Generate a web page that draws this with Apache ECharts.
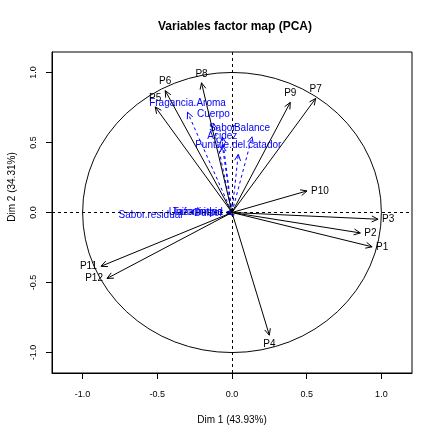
<!DOCTYPE html>
<html>
<head>
<meta charset="utf-8">
<script src="https://cdn.jsdelivr.net/npm/echarts@6/dist/echarts.min.js"></script>
<style>
html,body{margin:0;padding:0;background:#fff;}
#chart{width:438px;height:437px;}
</style>
</head>
<body>
<div id="chart"></div>
<script>
// Active variables (black arrows)
const pNames = ['P1','P2','P3','P4','P5','P6','P7','P8','P9','P10','P11','P12'];
const pDim1 = [0.938, 0.859, 0.978, 0.25, -0.514, -0.447, 0.56, -0.204, 0.39, 0.502, -0.877, -0.837];
const pDim2 = [-0.245, -0.146, -0.048, -0.876, 0.754, 0.87, 0.814, 0.926, 0.786, 0.154, -0.384, -0.471];

// Supplementary variables (blue dashed arrows)
const supNames = ['Fragancia.Aroma','Cuerpo','Sabor','Balance','Acidez','Puntaje.del.catador','Sabor.residual','Uniformidad','Taza.limpia','Dulzor'];
const supDim1 = [-0.298, -0.124, -0.065, 0.134, -0.065, 0.042, -0.03, -0.035, -0.035, -0.035];
const supDim2 = [0.716, 0.635, 0.54, 0.54, 0.48, 0.416, -0.01, 0.0, 0.005, -0.005];

const tickValues = [-1, -0.5, 0, 0.5, 1];
const titleText = 'Variables factor map (PCA)';
const xName = 'Dim 1 (43.93%)';
const yName = 'Dim 2 (34.31%)';

// label style nudges (pixels)
const labelNudge = { 'Sabor.residual': [-41, 1] };

const FONT = '"Liberation Sans", Arial, sans-serif';

function arrowRender(color, dashed) {
  return function (params, api) {
    const x = api.value(0), y = api.value(1);
    const name = params.dataIndex;
    const p0 = api.coord([0, 0]);
    const p1 = api.coord([x, y]);
    const ang = Math.atan2(p1[1] - p0[1], p1[0] - p0[0]);
    const hl = 7, ha = 25 * Math.PI / 180;
    const h1 = [p1[0] - hl * Math.cos(ang - ha), p1[1] - hl * Math.sin(ang - ha)];
    const h2 = [p1[0] - hl * Math.cos(ang + ha), p1[1] - hl * Math.sin(ang + ha)];
    const lineStyle = { stroke: color, lineWidth: 1, fill: null, lineDash: dashed ? [3, 3] : null };
    const label = api.value(2);
    let tx, ty, align, va;
    const off = 4;
    if (Math.abs(x) > Math.abs(y)) {
      if (x < 0) { tx = p1[0] - off; ty = p1[1]; align = 'right'; va = 'middle'; }
      else { tx = p1[0] + off; ty = p1[1]; align = 'left'; va = 'middle'; }
    } else {
      if (y < 0) { tx = p1[0]; ty = p1[1] + off; align = 'center'; va = 'top'; }
      else { tx = p1[0]; ty = p1[1] - off; align = 'center'; va = 'bottom'; }
    }
    const nd = labelNudge[label];
    if (nd) { tx += nd[0]; ty += nd[1]; }
    return {
      type: 'group',
      children: [
        { type: 'line', shape: { x1: p0[0], y1: p0[1], x2: p1[0], y2: p1[1] }, style: lineStyle },
        { type: 'polyline', shape: { points: [h1, p1, h2] }, style: { stroke: color, lineWidth: 1, fill: null } },
        { type: 'text', style: { text: label, x: tx, y: ty, fill: color, font: '10px ' + FONT, align: align, verticalAlign: va } }
      ]
    };
  };
}

const chart = echarts.init(document.getElementById('chart'), null, { renderer: 'canvas' });

const axisCommon = {
  type: 'value',
  splitLine: { show: false },
  axisLine: { show: true, onZero: false, lineStyle: { color: '#000', width: 1 } },
  axisTick: { show: true, customValues: tickValues, length: 6, lineStyle: { color: '#000' } },
  axisLabel: { customValues: tickValues, color: '#000', fontSize: 9, fontFamily: FONT, formatter: v => Number(v).toFixed(1) }
};

chart.setOption({
  animation: false,
  backgroundColor: '#fff',
  title: {
    text: titleText, left: 230, top: 16, textAlign: 'center',
    textStyle: { fontSize: 12, fontWeight: 'bold', color: '#000', fontFamily: FONT }
  },
  grid: { left: 52, right: 26, top: 52, bottom: 64, show: true, borderColor: '#000', borderWidth: 1, backgroundColor: 'transparent' },
  xAxis: Object.assign({}, axisCommon, {
    min: -1.205, max: 1.205, position: 'bottom',
    axisLabel: Object.assign({}, axisCommon.axisLabel, { margin: 17 }),
    name: xName, nameLocation: 'middle', nameGap: 42,
    nameTextStyle: { fontSize: 10, color: '#000', fontFamily: FONT }
  }),
  yAxis: Object.assign({}, axisCommon, {
    min: -1.146, max: 1.146, position: 'left',
    axisLabel: Object.assign({}, axisCommon.axisLabel, { rotate: 90, margin: 14 })
  }),
  graphic: [{
    type: 'text', x: 12, y: 187, rotation: Math.PI / 2,
    style: { text: yName, font: '10px ' + FONT, fill: '#000', align: 'center', verticalAlign: 'middle' }
  }],
  series: [
    {
      type: 'custom', name: 'circle', z: 1,
      data: [[0, 0]],
      renderItem: function (params, api) {
        const c = api.coord([0, 0]);
        const s = api.size([1, 1]);
        return {
          type: 'circle', shape: { cx: 0, cy: 0, r: s[0] }, x: c[0], y: c[1], scaleY: s[1] / s[0],
          style: { stroke: '#000', fill: null, lineWidth: 1 }
        };
      },
      markLine: {
        silent: true, symbol: 'none', label: { show: false },
        lineStyle: { color: '#000', type: [3, 3], width: 1 },
        data: [{ xAxis: 0 }, { yAxis: 0 }]
      }
    },
    {
      type: 'custom', name: 'sup', z: 2,
      data: supNames.map((n, i) => [supDim1[i], supDim2[i], n]),
      renderItem: arrowRender('#0000FF', true)
    },
    {
      type: 'custom', name: 'active', z: 3,
      data: pNames.map((n, i) => [pDim1[i], pDim2[i], n]),
      renderItem: arrowRender('#000000', false)
    }
  ]
});
</script>
</body>
</html>
